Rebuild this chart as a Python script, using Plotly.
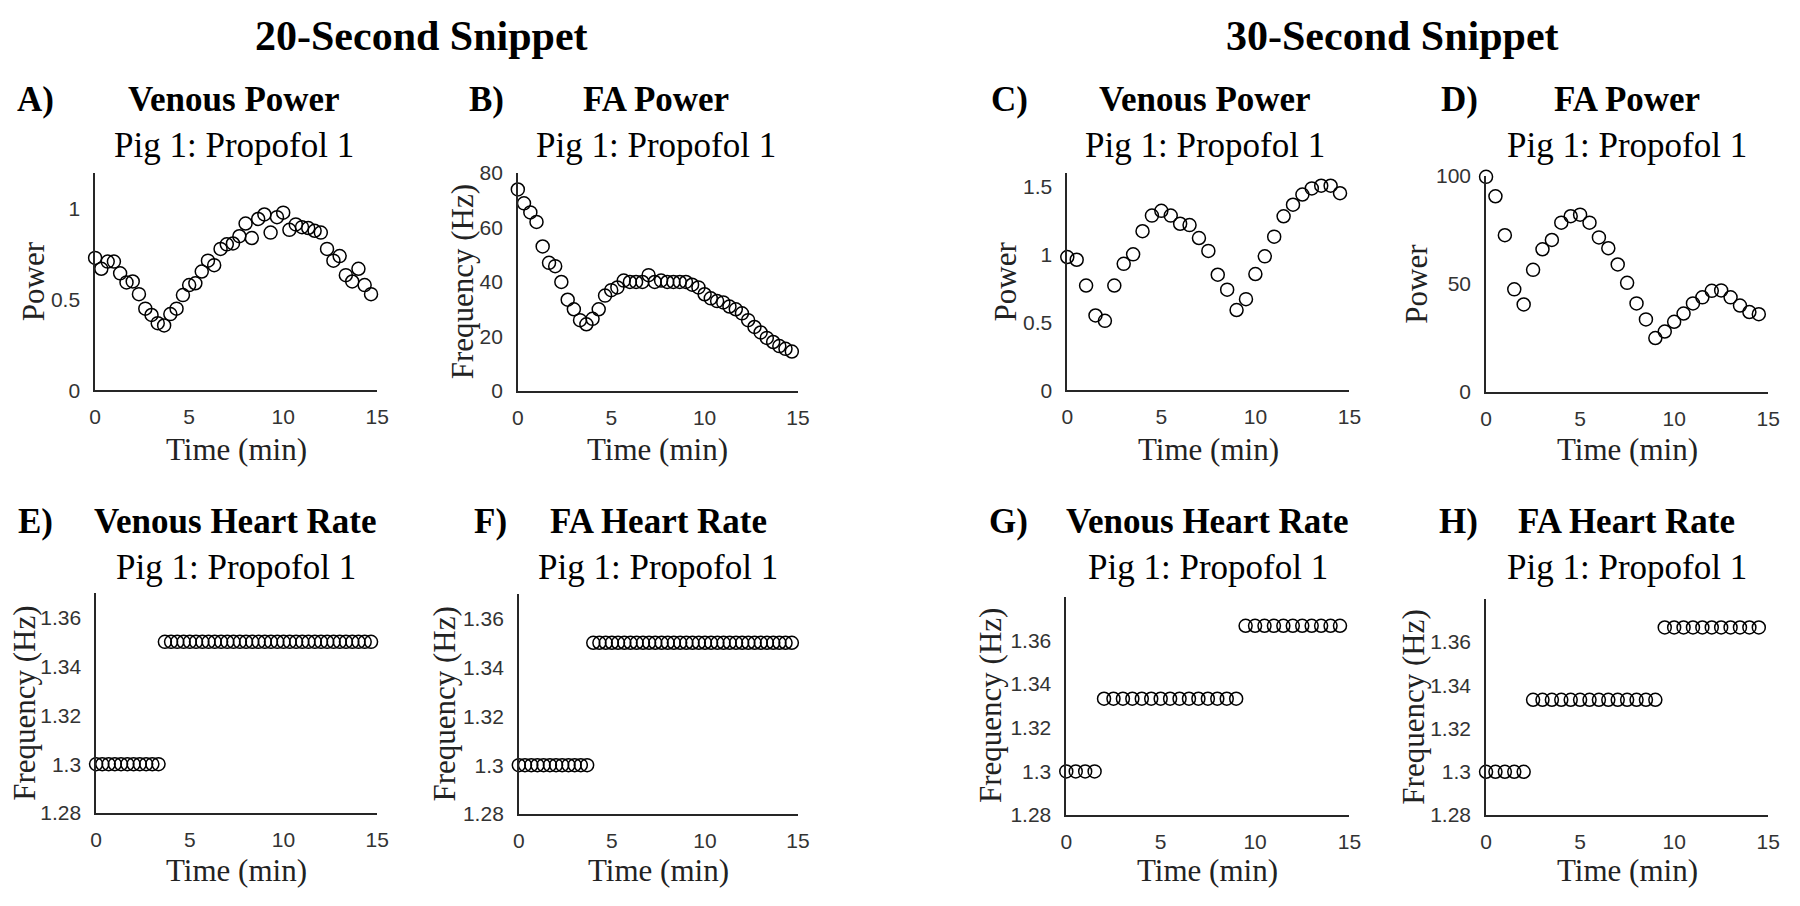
import plotly.graph_objects as go

# ---------------- data ----------------
time_20s = [0, 0.33, 0.67, 1, 1.33, 1.67, 2, 2.33, 2.67, 3, 3.33, 3.67, 4, 4.33, 4.67,
            5, 5.33, 5.67, 6, 6.33, 6.67, 7, 7.33, 7.67, 8, 8.33, 8.67, 9, 9.33, 9.67,
            10, 10.33, 10.67, 11, 11.33, 11.67, 12, 12.33, 12.67, 13, 13.33, 13.67, 14, 14.33, 14.67]
time_30s = [0, 0.5, 1, 1.5, 2, 2.5, 3, 3.5, 4, 4.5, 5, 5.5, 6, 6.5, 7, 7.5, 8, 8.5, 9, 9.5,
            10, 10.5, 11, 11.5, 12, 12.5, 13, 13.5, 14, 14.5]

venous_power_20 = [0.73, 0.67, 0.71, 0.71, 0.645, 0.595, 0.60, 0.53, 0.45, 0.415, 0.37, 0.357,
                   0.42, 0.45, 0.525, 0.58, 0.59, 0.655, 0.715, 0.69, 0.78, 0.805, 0.81, 0.85,
                   0.92, 0.84, 0.945, 0.97, 0.87, 0.955, 0.98, 0.885, 0.915, 0.90, 0.895, 0.88,
                   0.87, 0.78, 0.715, 0.74, 0.635, 0.60, 0.67, 0.58, 0.53]
fa_power_20 = [73.9, 68.8, 65.5, 62, 53, 47, 45.8, 40, 33.5, 30, 26, 24.5, 26.5, 30, 35,
               37, 38, 40.5, 40, 40, 40, 42.5, 40, 40.5, 40, 40, 40, 40, 39, 38,
               35.5, 34, 33, 32.5, 31, 30, 28.5, 26, 23.5, 21.5, 19.5, 18, 16.5, 15.5, 14.5]
venous_power_30 = [0.98, 0.96, 0.77, 0.55, 0.51, 0.77, 0.93, 1.0, 1.17, 1.285, 1.32, 1.285,
                   1.225, 1.215, 1.12, 1.025, 0.85, 0.74, 0.59, 0.67, 0.855, 0.985, 1.13,
                   1.28, 1.365, 1.44, 1.485, 1.505, 1.505, 1.45]
fa_power_30 = [99.5, 90.5, 72.5, 47.5, 40.5, 56.5, 66, 70.3, 78.3, 81.3, 82, 78.3, 71.5, 66.5,
               59, 50.5, 41, 33.6, 25, 28, 32.5, 36.3, 41, 43.8, 46.8, 47, 43.8, 40, 37, 36]

venous_hr_20 = [1.30, 1.30, 1.30, 1.30, 1.30, 1.30, 1.30, 1.30, 1.30, 1.30, 1.30,
                1.35, 1.35, 1.35, 1.35, 1.35, 1.35, 1.35, 1.35, 1.35, 1.35, 1.35, 1.35,
                1.35, 1.35, 1.35, 1.35, 1.35, 1.35, 1.35, 1.35, 1.35, 1.35, 1.35, 1.35,
                1.35, 1.35, 1.35, 1.35, 1.35, 1.35, 1.35, 1.35, 1.35, 1.35]
fa_hr_20 = [1.30, 1.30, 1.30, 1.30, 1.30, 1.30, 1.30, 1.30, 1.30, 1.30, 1.30, 1.30,
            1.35, 1.35, 1.35, 1.35, 1.35, 1.35, 1.35, 1.35, 1.35, 1.35, 1.35,
            1.35, 1.35, 1.35, 1.35, 1.35, 1.35, 1.35, 1.35, 1.35, 1.35, 1.35, 1.35,
            1.35, 1.35, 1.35, 1.35, 1.35, 1.35, 1.35, 1.35, 1.35, 1.35]
venous_hr_30 = [1.30, 1.30, 1.30, 1.30,
                1.3333, 1.3333, 1.3333, 1.3333, 1.3333, 1.3333, 1.3333, 1.3333, 1.3333,
                1.3333, 1.3333, 1.3333, 1.3333, 1.3333, 1.3333,
                1.3667, 1.3667, 1.3667, 1.3667, 1.3667, 1.3667, 1.3667, 1.3667, 1.3667,
                1.3667, 1.3667]
fa_hr_30 = [1.30, 1.30, 1.30, 1.30, 1.30,
            1.3333, 1.3333, 1.3333, 1.3333, 1.3333, 1.3333, 1.3333, 1.3333, 1.3333,
            1.3333, 1.3333, 1.3333, 1.3333, 1.3333,
            1.3667, 1.3667, 1.3667, 1.3667, 1.3667, 1.3667, 1.3667, 1.3667, 1.3667,
            1.3667, 1.3667]

x_ticks = [0, 5, 10, 15]
hr_ticks = [1.28, 1.30, 1.32, 1.34, 1.36]
hr_ticktext = ["1.28", "1.3", "1.32", "1.34", "1.36"]

column_titles = ["20-Second Snippet", "30-Second Snippet"]
subtitle = "Pig 1: Propofol 1"

# ---------------- layout geometry (pixels) ----------------
W, H = 1800, 906
SERIF = "Liberation Serif, Times New Roman, serif"
SANS = "Liberation Sans, Arial, sans-serif"
INK = "#262626"


def fx(px):
    return px / W


def fy(py):
    return 1 - py / H


panels = [
    dict(letter="A)", title="Venous Power", ylabel="Power", x=time_20s, y=venous_power_20,
         yrange=[0, 1.2], yt=[0, 0.5, 1], ytt=["0", "0.5", "1"], box=(90, 375, 165, 388),
         lx=30, tx=230, ylx=28),
    dict(letter="B)", title="FA Power", ylabel="Frequency (Hz)", x=time_20s, y=fa_power_20,
         yrange=[0, 80], yt=[0, 20, 40, 60, 80], ytt=["0", "20", "40", "60", "80"],
         box=(517, 800, 165, 389), lx=485, tx=657, ylx=462),
    dict(letter="C)", title="Venous Power", ylabel="Power", x=time_30s, y=venous_power_30,
         yrange=[0, 1.6], yt=[0, 0.5, 1, 1.5], ytt=["0", "0.5", "1", "1.5"],
         box=(1072, 1357, 165, 388), lx=1014, tx=1211, ylx=1010),
    dict(letter="D)", title="FA Power", ylabel="Power", x=time_30s, y=fa_power_30,
         yrange=[0, 100], yt=[0, 50, 100], ytt=["0", "50", "100"],
         box=(1495, 1780, 168, 390), lx=1468, tx=1637, ylx=1425),
    dict(letter="E)", title="Venous Heart Rate", ylabel="Frequency (Hz)", x=time_20s, y=venous_hr_20,
         yrange=[1.28, 1.37], yt=hr_ticks, ytt=hr_ticktext, box=(91, 375, 596, 822),
         lx=30, tx=232, ylx=18),
    dict(letter="F)", title="FA Heart Rate", ylabel="Frequency (Hz)", x=time_20s, y=fa_hr_20,
         yrange=[1.28, 1.37], yt=hr_ticks, ytt=hr_ticktext, box=(518, 800, 597, 823),
         lx=489, tx=659, ylx=443),
    dict(letter="G)", title="Venous Heart Rate", ylabel="Frequency (Hz)", x=time_30s, y=venous_hr_30,
         yrange=[1.28, 1.38], yt=hr_ticks, ytt=hr_ticktext, box=(1071, 1357, 600, 824),
         lx=1013, tx=1214, ylx=995),
    dict(letter="H)", title="FA Heart Rate", ylabel="Frequency (Hz)", x=time_30s, y=fa_hr_30,
         yrange=[1.28, 1.38], yt=hr_ticks, ytt=hr_ticktext, box=(1495, 1780, 602, 824),
         lx=1467, tx=1637, ylx=1422),
]

fig = go.Figure()
annotations = []
layout_axes = {}

for i, p in enumerate(panels):
    n = i + 1
    xa = "x" if n == 1 else f"x{n}"
    ya = "y" if n == 1 else f"y{n}"
    x0, x1, y0, y1 = p["box"]
    fig.add_trace(go.Scatter(
        x=p["x"], y=p["y"], xaxis=xa, yaxis=ya, mode="markers",
        marker=dict(symbol="circle-open", size=13, color="black",
                    line=dict(width=1.5, color="black")),
        cliponaxis=False, showlegend=False, hoverinfo="x+y"))
    axis_common = dict(showline=True, linecolor=INK, linewidth=1.6, showgrid=False,
                       zeroline=False, ticks="", mirror=False,
                       tickfont=dict(family=SANS, size=21, color="#333333"))
    layout_axes["xaxis" if n == 1 else f"xaxis{n}"] = dict(
        axis_common, domain=[fx(x0), fx(x1)], range=[0, 15], tickvals=x_ticks,
        ticktext=[str(v) for v in x_ticks], anchor=ya, ticklabelstandoff=7)
    layout_axes["yaxis" if n == 1 else f"yaxis{n}"] = dict(
        axis_common, domain=[fy(y1), fy(y0)], range=p["yrange"], tickvals=p["yt"],
        ticktext=p["ytt"], anchor=xa, ticklabelstandoff=9)

    top = n <= 4
    title_y = 90 if top else 523
    sub_y = 137 if top else 570
    xlab_y = 449 if top else 881
    cx = (x0 + x1) / 2
    annotations += [
        dict(text="<b>" + p["letter"] + "</b>", x=fx(p["lx"]), y=fy(title_y),
             font=dict(family=SERIF, size=35, color="black")),
        dict(text="<b>" + p["title"] + "</b>", x=fx(p["tx"]), y=fy(title_y),
             font=dict(family=SERIF, size=35, color="black")),
        dict(text=subtitle, x=fx(p["tx"]), y=fy(sub_y),
             font=dict(family=SERIF, size=35, color="black")),
        dict(text="Time (min)", x=fx(cx), y=fy(xlab_y),
             font=dict(family=SERIF, size=31, color="#222222")),
        dict(text=p["ylabel"], x=fx(p["ylx"]), y=fy((y0 + y1) / 2), textangle=-90,
             font=dict(family=SERIF, size=31, color="#222222")),
    ]

annotations += [
    dict(text="<b>" + column_titles[0] + "</b>", x=fx(420), y=fy(25),
         font=dict(family=SERIF, size=42, color="black")),
    dict(text="<b>" + column_titles[1] + "</b>", x=fx(1400), y=fy(25),
         font=dict(family=SERIF, size=42, color="black")),
]
for a in annotations:
    a.update(xref="paper", yref="paper", xanchor="center", yanchor="middle", showarrow=False)

fig.update_layout(width=W, height=H, margin=dict(l=0, r=0, t=0, b=0),
                  paper_bgcolor="white", plot_bgcolor="white",
                  annotations=annotations, **layout_axes)

fig.write_html("out.html")
